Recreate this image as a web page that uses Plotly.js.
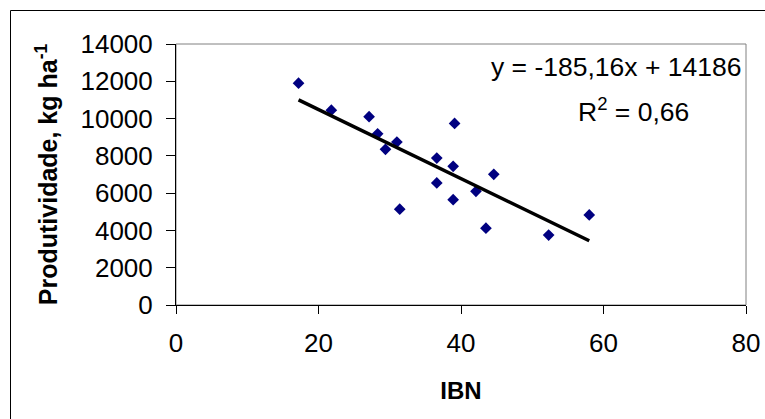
<!DOCTYPE html>
<html>
<head>
<meta charset="utf-8">
<script src="https://cdn.plot.ly/plotly-3.0.1.min.js"></script>
<style>
html,body{margin:0;padding:0;background:#fff;}
#chart{width:765px;height:419px;}
</style>
</head>
<body>
<div id="chart"></div>
<script>
// Data
const ibn = [17.2, 21.8, 27.1, 28.3, 29.4, 31.0, 31.4, 36.6, 36.6, 39.1, 38.9, 38.9, 44.6, 42.1, 43.5, 52.3, 58.0];
const produtividade = [11900, 10450, 10100, 9180, 8350, 8740, 5140, 7880, 6550, 9740, 7440, 5650, 7010, 6100, 4120, 3750, 4830];
// Linear trend coefficients shown on the chart
const slope = -185.16;
const intercept = 14186;
const xTicks = [0, 20, 40, 60, 80];
const yTicks = [0, 2000, 4000, 6000, 8000, 10000, 12000, 14000];

const xMin = Math.min(...ibn), xMax = Math.max(...ibn);
const trendX = [xMin, xMax];
const trendY = trendX.map(x => slope * x + intercept);

const font = "Liberation Sans, Arial, Helvetica, sans-serif";

const traces = [
  {
    x: ibn, y: produtividade, type: 'scatter', mode: 'markers',
    marker: {symbol: 'diamond', size: 9, color: '#000080'},
    showlegend: false, hoverinfo: 'x+y'
  },
  {
    x: trendX, y: trendY, type: 'scatter', mode: 'lines',
    line: {color: '#000000', width: 3.5},
    showlegend: false, hoverinfo: 'skip'
  }
];

const W = 765, H = 419;
const mL = 176, mR = 19, mT = 44, mB = 114;
const pw = W - mL - mR, ph = H - mT - mB;
function px(xp){ return (xp - mL) / pw; }
function py(yp){ return (H - mB - yp) / ph; }

const layout = {
  width: W, height: H,
  margin: {l: mL, r: mR, t: mT, b: mB, pad: 0},
  paper_bgcolor: '#ffffff', plot_bgcolor: '#ffffff',
  font: {family: font, color: '#000000', size: 26},
  xaxis: {
    range: [0, 80], tickvals: xTicks, ticktext: xTicks.map(String),
    showgrid: false, zeroline: false,
    showline: true, linecolor: '#000000', linewidth: 1,
    ticks: 'outside', ticklen: 8, tickcolor: '#000000', tickwidth: 1,
    ticklabelstandoff: 7,
    tickfont: {family: font, size: 26, color: '#000'},
    title: {text: '<b>IBN</b>', font: {family: font, size: 24, color: '#000'}, standoff: 24},
    automargin: false, fixedrange: true
  },
  yaxis: {
    range: [0, 14000], tickvals: yTicks, ticktext: yTicks.map(String),
    showgrid: false, zeroline: false,
    showline: true, linecolor: '#000000', linewidth: 1,
    ticks: 'outside', ticklen: 9, tickcolor: '#000000', tickwidth: 1,
    ticklabelstandoff: 8,
    tickfont: {family: font, size: 26, color: '#000'},
    title: {text: '<b>Produtividade, kg ha<sup>-1</sup></b>', font: {family: font, size: 25, color: '#000'}, standoff: 15},
    automargin: false, fixedrange: true
  },
  shapes: [
    {type: 'rect', xref: 'paper', yref: 'paper', x0: 0, x1: 1, y0: 0, y1: 1,
     line: {color: '#808080', width: 1}, layer: 'below'},
    {type: 'rect', xref: 'paper', yref: 'paper',
     x0: px(10.5), x1: px(770), y0: py(425), y1: py(10.5),
     line: {color: '#000000', width: 1}, layer: 'below'}
  ],
  annotations: [
    {xref: 'paper', yref: 'paper', x: px(743), y: py(67), xanchor: 'right', yanchor: 'middle',
     text: 'y = -185,16x + 14186', showarrow: false, font: {family: font, size: 26.5, color: '#000'}},
    {xref: 'paper', yref: 'paper', x: px(691), y: py(110), xanchor: 'right', yanchor: 'middle',
     text: 'R<sup>2</sup> = 0,66', showarrow: false, font: {family: font, size: 26.5, color: '#000'}}
  ]
};

Plotly.newPlot('chart', traces, layout, {displayModeBar: false, staticPlot: true});
</script>
</body>
</html>
